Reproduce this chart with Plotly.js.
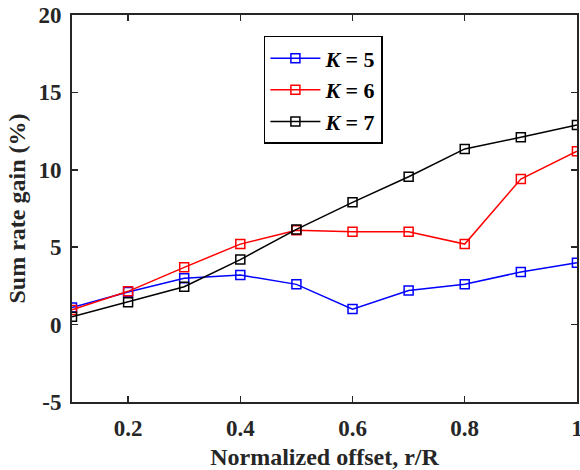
<!DOCTYPE html>
<html>
<head>
<meta charset="utf-8">
<script src="https://cdn.plot.ly/plotly-3.0.1.min.js"></script>
<style>html,body{margin:0;padding:0;background:#fff;}#chart{width:580px;height:470px;}</style>
</head>
<body>
<div id="chart"></div>
<script>
var offsets = [0.1, 0.2, 0.3, 0.4, 0.5, 0.6, 0.7, 0.8, 0.9, 1.0];
var gainK5 = [1.1, 2.1, 3.0, 3.2, 2.6, 1.0, 2.2, 2.6, 3.4, 4.0];
var gainK6 = [0.95, 2.15, 3.7, 5.2, 6.1, 6.0, 6.0, 5.2, 9.4, 11.2];
var gainK7 = [0.5, 1.45, 2.45, 4.2, 6.15, 7.9, 9.55, 11.35, 12.1, 12.9];
var seriesNames = ['<i>K</i> = 5', '<i>K</i> = 6', '<i>K</i> = 7'];
var xTicks = [0.2, 0.4, 0.6, 0.8, 1];
var xTickText = ['0.2', '0.4', '0.6', '0.8', '1'];
var yTicks = [-5, 0, 5, 10, 15, 20];
var yTickText = ['-5', '0', '5', '10', '15', '20'];

var colors = ['#0000ff', '#ff0000', '#000000'];
var series = [gainK5, gainK6, gainK7];
var fam = '"Liberation Serif", "Times New Roman", serif';
var tickFont = {family: fam, size: 23, color: '#262626', weight: 'bold'};
var titleFont = {family: fam, size: 24, color: '#262626', weight: 'bold'};
var legendFont = {family: fam, size: 22, color: '#000000', weight: 'bold'};

var traces = series.map(function (ys, i) {
  return {
    x: offsets, y: ys, name: seriesNames[i], type: 'scatter', mode: 'lines+markers',
    line: {color: colors[i], width: 1.5},
    marker: {symbol: 'square-open', size: 9, color: colors[i], line: {width: 1.5, color: colors[i]}}
  };
});

var axisCommon = {
  showline: true, linecolor: '#262626', linewidth: 2, mirror: 'ticks',
  ticks: 'inside', ticklen: 6, tickwidth: 1.5, tickcolor: '#262626',
  showgrid: false, zeroline: false, tickfont: tickFont, ticklabeloverflow: 'allow'
};

var layout = {
  width: 580, height: 470,
  margin: {l: 72, r: 3, t: 15, b: 68},
  paper_bgcolor: '#fff', plot_bgcolor: '#fff',
  font: tickFont,
  showlegend: true,
  legend: {
    x: 0.38, y: 0.946, xanchor: 'left', yanchor: 'top',
    bgcolor: '#fff', bordercolor: '#000', borderwidth: 1.5,
    font: legendFont, tracegroupgap: 0, itemwidth: 50
  },
  xaxis: Object.assign({}, axisCommon, {
    range: [0.1, 1.0001], tickmode: 'array', tickvals: xTicks, ticktext: xTickText,
    ticklabelstandoff: 4,
    title: {text: 'Normalized offset, r/R', font: titleFont, standoff: 14}
  }),
  yaxis: Object.assign({}, axisCommon, {
    range: [-5, 20], tickmode: 'array', tickvals: yTicks, ticktext: yTickText,
    ticklabelstandoff: 4,
    title: {text: 'Sum rate gain (%)', font: titleFont, standoff: 6}
  })
};

Plotly.newPlot('chart', traces, layout, {displayModeBar: false, staticPlot: true});
</script>
</body>
</html>
